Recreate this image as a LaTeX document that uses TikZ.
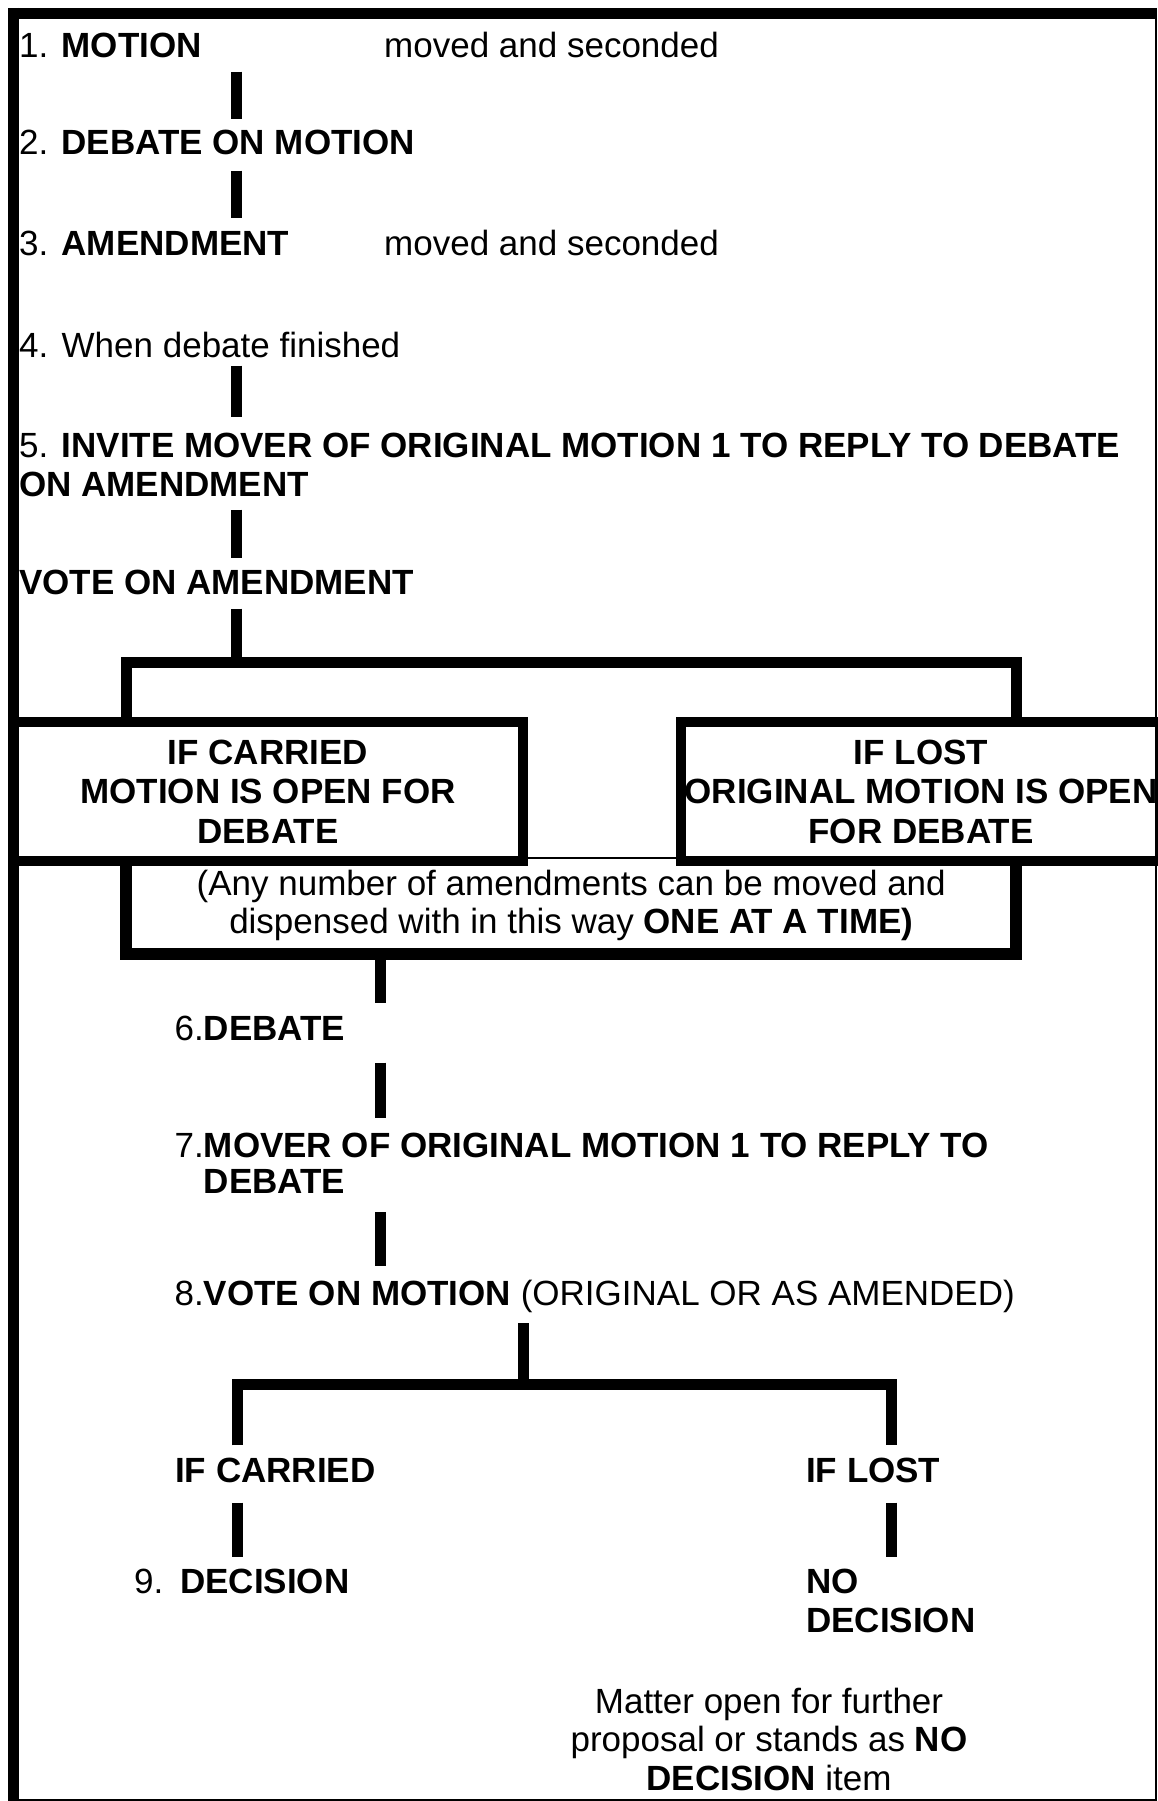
\documentclass[tikz,border=0pt]{standalone}
\usepackage{fontspec}
\setmainfont{Liberation Sans}
\usetikzlibrary{positioning}

\tikzset{
  txt/.style={anchor=base west, inner sep=0pt, align=left},
  ctxt/.style={anchor=base, inner sep=0pt, align=center},
  bar/.style={line width=11pt},
  boxed/.style={draw, line width=10.5pt, inner sep=0pt, align=center},
  hair/.style={line width=2pt}
}
\newcommand{\stepno}[2]{\makebox[#1][l]{#2}}

\begin{document}
\begin{tikzpicture}[x=1pt, y=-1pt, font=\fontsize{35}{39}\selectfont]
\useasboundingbox (0,0) rectangle (1157,1801);

% frame
\draw[bar] (8,13.5) -- (1157,13.5);
\draw[bar] (13.5,8) -- (13.5,1801);
\draw[hair] (1156,8) -- (1156,1800) -- (13.5,1800);

\coordinate (stem) at (236.5,0);
\coordinate (stemb) at (380,0);
\coordinate (stemc) at (523,0);
\coordinate (legA) at (237,0);
\coordinate (legB) at (891,0);

% steps 1 to 5 (multi-line nodes sit on their last line)
\node[txt] (motion) at (19,58) {\stepno{42.5pt}{1.}\textbf{MOTION}};
\node[txt] (moved1) at (384,58) {moved and seconded};
\node[txt] (debmot) at (19,154) {\stepno{42.5pt}{2.}\textbf{DEBATE ON MOTION}};
\node[txt] (amend) at (19,255) {\stepno{42.5pt}{3.}\textbf{AMENDMENT}};
\node[txt] (moved2) at (384,255) {moved and seconded};
\node[txt] (finish) at (19,357) {\stepno{42.5pt}{4.}When debate finished};
\node[txt] (invite) at (19,496) {\stepno{42.5pt}{5.}\textbf{INVITE MOVER OF ORIGINAL MOTION 1 TO REPLY TO DEBATE}\\\textbf{ON AMENDMENT}};
\node[txt] (voteam) at (19,594) {\textbf{VOTE ON AMENDMENT}};

\foreach \a/\b/\p/\q in {motion/debmot/13/10, debmot/amend/16/12, finish/invite/8/15, invite/voteam/13/11}
  \draw[bar, shorten <=\p pt, shorten >=\q pt] (\a.south -| stem) -- (\b.north -| stem);

% amendment carried or lost
\coordinate (fork) at (236.5,662);
\node[boxed, minimum width=510pt, minimum height=139pt, font=\fontsize{35}{39.5}\selectfont\bfseries] (carried) at (268,791.5) {IF CARRIED\\MOTION IS OPEN FOR\\DEBATE};
\node[boxed, minimum width=480pt, minimum height=139pt, font=\fontsize{35}{39.5}\selectfont\bfseries] (lost) at (921,791.5) {IF LOST\\ORIGINAL MOTION IS OPEN\\FOR DEBATE};
\node[inner sep=0pt, minimum width=889.5pt, minimum height=95.5pt, align=center, font=\fontsize{35}{38}\selectfont] (anyno) at (571.25,905.75) {(Any number of amendments can be moved and\\dispensed with in this way \textbf{ONE AT A TIME)}};

\draw[bar, shorten <=14pt] (voteam.south -| stem) -- (fork);
\draw[bar] (carried.north -| anyno.west) |- (fork) -| (lost.north -| anyno.east);
\draw[line width=12pt] (anyno.north west) -- (anyno.south west) -- (anyno.south east) -- (anyno.north east);
\draw[hair] (anyno.north west) -- (anyno.north east);

% steps 6 to 8
\node[txt] (debate6) at (174.5,1040) {6.\textbf{DEBATE}};
\node[txt, font=\fontsize{35}{36}\selectfont] (mover7) at (174.5,1193) {7.\textbf{MOVER OF ORIGINAL MOTION 1 TO REPLY TO}\\\phantom{7.}\textbf{DEBATE}};
\node[txt] (vote8) at (174.5,1305) {8.\textbf{VOTE ON MOTION} (ORIGINAL OR AS AMENDED)};

\draw[bar, shorten >=12pt] (anyno.south -| stemb) -- (debate6.north -| stemb);
\foreach \a/\b/\p/\q in {debate6/mover7/22/14, mover7/vote8/19/13}
  \draw[bar, shorten <=\p pt, shorten >=\q pt] (\a.south -| stemb) -- (\b.north -| stemb);

% motion carried or lost
\coordinate (fork2) at (523,1384.5);
\node[txt] (ifcar) at (175,1482) {\textbf{IF CARRIED}};
\node[txt] (iflost) at (806,1482) {\textbf{IF LOST}};
\node[txt] (decis) at (134,1593) {\stepno{46pt}{9.}\textbf{DECISION}};
\node[txt] (nodec) at (806,1632) {\textbf{NO}\\\textbf{DECISION}};
\node[ctxt, font=\fontsize{35}{38.5}\selectfont] (matter) at (769,1790) {Matter open for further\\proposal or stands as \textbf{NO}\\\textbf{DECISION} item};

\draw[bar, shorten <=11pt] (vote8.south -| stemc) -- (fork2);
\draw[bar, shorten <=12pt, shorten >=12pt] (ifcar.north -| legA) |- (fork2) -| (iflost.north -| legB);
\draw[bar, shorten <=20pt, shorten >=11pt] (ifcar.south -| legA) -- (decis.north -| legA);
\draw[bar, shorten <=20pt, shorten >=11pt] (iflost.south -| legB) -- (nodec.north -| legB);
\end{tikzpicture}
\end{document}
